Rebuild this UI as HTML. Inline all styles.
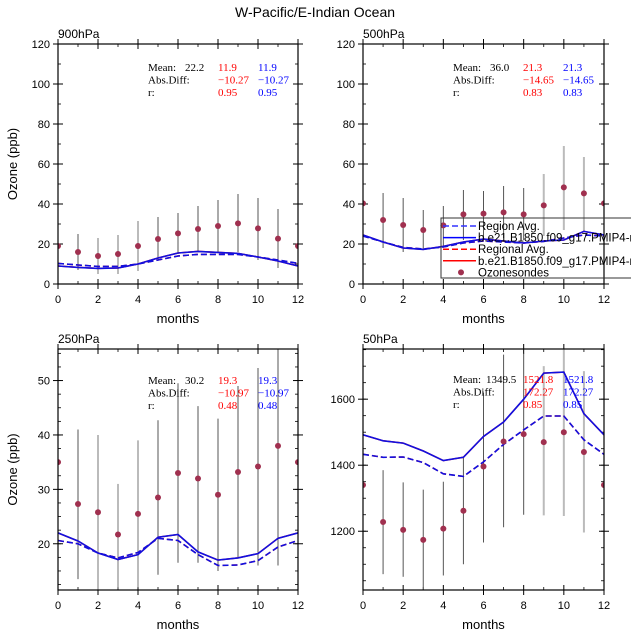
<!DOCTYPE html>
<html><head><meta charset="utf-8"><style>
html,body{margin:0;padding:0;background:#fff;}
svg{display:block;font-family:"Liberation Sans",sans-serif;}
.st{font-family:"Liberation Serif",serif;font-size:11px;}
</style></head><body>
<svg id="chart" width="631" height="638" viewBox="0 0 631 638">
<text x="315" y="17" text-anchor="middle" font-size="14">W-Pacific/E-Indian Ocean</text>
</svg>
<script>
const months = [0,1,2,3,4,5,6,7,8,9,10,11,12];
// 900hPa
const obs900 = [19,16,14,15,19,22.5,25.3,27.5,29,30.3,27.8,22.7,19];
const lo900 = [null,7,5,5,6.5,12,15,16,15.5,16,12,8,null];
const hi900 = [null,25,23,24.5,31.5,33.5,35.5,39,42,45,43,37.5,null];
const solid900 = [9,8.3,7.8,8,10,13,15.5,16.3,15.8,15.3,13.5,11.5,9];
const dash900 = [10.3,9.5,8.8,8.8,10,12,14,14.8,14.8,14.8,13.5,12,10.3];
// 500hPa
const obs500 = [40.3,32,29.5,27,29.3,34.8,35.2,35.8,34.8,39.3,48.3,45.3,40.3];
const lo500 = [null,18,16,17,19,22,23,23,22,24,27,26,null];
const hi500 = [null,45.5,43,37,39,47,46.5,49,48,55,69,63.5,null];
const solid500 = [24.5,21,18,17.3,18.8,21,22.5,21.5,20.5,21.5,22,26.3,24.5];
const dash500 = [24,21,18.3,17.5,18.5,20.5,21.5,21,20.5,21.3,23,24.5,24];
// 250hPa
const obs250 = [35,27.3,25.8,21.7,25.5,28.5,33,32,29,33.2,34.2,38,35];
const lo250 = [null,13.5,11,12,12,14.3,16.5,16.5,15,17.5,16,16,null];
const hi250 = [null,41,40,31,39,42.7,49.5,45.3,43,49,52.3,56,null];
const solid250 = [22,20.5,18.3,17.1,18,21.2,21.7,18.5,17,17.4,18.2,21,22];
const dash250 = [20.6,20,18.3,17.4,18.4,21,20.6,18,16,16.1,16.9,19.4,20.6];
// 50hPa
const obs50 = [1340,1228,1204,1174,1208,1262,1396,1472,1494,1470,1500,1440,1340];
const lo50 = [null,1070,1062,1022,1066,1100,1166,1212,1250,1248,1246,1196,null];
const hi50 = [null,1385,1348,1326,1350,1422,1620,1735,1738,1700,1752,1685,null];
const solid50 = [1492,1474,1467,1443,1414,1424,1487,1531,1600,1679,1682,1556,1492];
const dash50 = [1433,1424,1425,1408,1374,1366,1410,1463,1507,1549,1549,1477,1433];
const yTicks900 = [0,20,40,60,80,100,120];
const yTicks250 = [20,30,40,50];
const yTicks50 = [1200,1400,1600];
const xTicks = [0,2,4,6,8,10,12];

const NS="http://www.w3.org/2000/svg";
const svg=document.getElementById('chart');
function mk(tag,attrs,parent){const e=document.createElementNS(NS,tag);for(const k in attrs)e.setAttribute(k,attrs[k]);(parent||svg).appendChild(e);return e;}

function panel(o){
  const g=mk('g',{});
  
  
  const X=v=>o.x0+(v-0)/12*(o.x1-o.x0);
  const Y=v=>o.yb-(v-o.ymin)/(o.ymax-o.ymin)*(o.yb-o.yt);
  const clip=mk('clipPath',{id:'c'+o.id},g);
  mk('rect',{x:o.x0,y:o.yt,width:o.x1-o.x0,height:o.yb-o.yt},clip);
  for(let v=0;v<=12;v+=1){if(v%2){mk('line',{x1:X(v),x2:X(v),y1:o.yb,y2:o.yb-3,stroke:'#000','stroke-width':0.8},g);mk('line',{x1:X(v),x2:X(v),y1:o.yt,y2:o.yt+3,stroke:'#000','stroke-width':0.8},g);}}
  for(let v=Math.ceil(o.ymin/o.minor)*o.minor;v<=o.ymax;v+=o.minor){const yy=Y(v);mk('line',{x1:o.x0,x2:o.x0+3,y1:yy,y2:yy,stroke:'#000','stroke-width':0.8},g);mk('line',{x1:o.x1,x2:o.x1-3,y1:yy,y2:yy,stroke:'#000','stroke-width':0.8},g);}
  xTicks.forEach(v=>{
    mk('line',{x1:X(v),x2:X(v),y1:o.yb-5,y2:o.yb+5,stroke:'#000','stroke-width':1},g);
    mk('line',{x1:X(v),x2:X(v),y1:o.yt-5,y2:o.yt+5,stroke:'#000','stroke-width':1},g);
    const t=mk('text',{x:X(v),y:o.yb+19,'text-anchor':'middle','font-size':11},g);t.textContent=v;
    
    
  });
  o.yticks.forEach(v=>{
    const yy=Y(v);
    mk('line',{x1:o.x0-5,x2:o.x0+5,y1:yy,y2:yy,stroke:'#000','stroke-width':1},g);
    mk('line',{x1:o.x1-5,x2:o.x1+5,y1:yy,y2:yy,stroke:'#000','stroke-width':1},g);
    const t=mk('text',{x:o.x0-8,y:yy+4,'text-anchor':'end','font-size':11},g);t.textContent=v;
    
    
  });
  const dg=mk('g',{'clip-path':'url(#c'+o.id+')'},g);
  months.forEach((m,i)=>{
    if(o.lo[i]==null)return;
    const gray=o.gray.includes(i);
    const b=mk('line',{x1:X(m),x2:X(m),y1:Y(o.lo[i]),y2:Y(o.hi[i]),stroke:gray?'#bbb':'#555','stroke-width':gray?2:1},dg);
    
    
  });
  const pts=a=>a.map((v,i)=>X(months[i]).toFixed(1)+','+Y(v).toFixed(1)).join(' ');
  let l=mk('polyline',{points:pts(o.dash),fill:'none',stroke:'#f00','stroke-width':1.5,'stroke-dasharray':'6,3'},dg);
  
  l=mk('polyline',{points:pts(o.solid),fill:'none',stroke:'#f00','stroke-width':1.5},dg);
  
  l=mk('polyline',{points:pts(o.dash),fill:'none',stroke:'#1010e0','stroke-width':1.6,'stroke-dasharray':'6,3'},dg);
  
  l=mk('polyline',{points:pts(o.solid),fill:'none',stroke:'#1010e0','stroke-width':1.6},dg);
  
  months.forEach((m,i)=>{
    const c=mk('circle',{cx:X(m),cy:Y(o.obs[i]),r:3,fill:'#a0304f'},dg);
    
    
  });
  mk('rect',{x:o.x0,y:o.yt,width:o.x1-o.x0,height:o.yb-o.yt,fill:'none',stroke:'#000','stroke-width':1.2},g);
  let t=mk('text',{x:o.x0,y:o.yt-6,'font-size':12},g);t.textContent=o.label;
  
  t=mk('text',{x:(o.x0+o.x1)/2,y:o.yb+39,'text-anchor':'middle','font-size':13},g);t.textContent='months';
  
  if(o.ylab){t=mk('text',{x:0,y:0,'text-anchor':'middle','font-size':13,transform:'translate(17,'+((o.yt+o.yb)/2)+') rotate(-90)'},g);t.textContent='Ozone (ppb)';
  }
  const s=o.stats, sx=o.sx, sy=o.sy;
  const rows=[['Mean:',s[0],s[1],s[1]],['Abs.Diff:','',s[2],s[2]],['r:','',s[3],s[3]]];
  rows.forEach((r,j)=>{
    const yy=sy+j*12.5;
    const cols=[[sx,'#000',r[0]],[sx+o.vx,'#000',r[1]],[sx+70,'#f00',r[2]],[sx+110,'#00f',r[3]]];
    cols.forEach(c=>{if(c[2]==='')return;const tt=mk('text',{x:c[0],y:yy,fill:c[1],class:'st'},g);tt.textContent=c[2];
      });
  });
}
panel({id:'p900',label:'900hPa',x0:58,x1:298,yt:44,yb:284,ymin:0,ymax:120,minor:10,yticks:yTicks900,obs:obs900,lo:lo900,hi:hi900,solid:solid900,dash:dash900,gray:[2,3,4],ylab:true,stats:['22.2','11.9','\u221210.27','0.95'],sx:148,sy:71,vx:37});
panel({id:'p500',label:'500hPa',x0:363,x1:604,yt:44,yb:284,ymin:0,ymax:120,minor:10,yticks:yTicks900,obs:obs500,lo:lo500,hi:hi500,solid:solid500,dash:dash500,gray:[9,10,11],ylab:false,stats:['36.0','21.3','\u221214.65','0.83'],sx:453,sy:71,vx:37});
panel({id:'p250',label:'250hPa',x0:58,x1:298,yt:349,yb:590,ymin:11.5,ymax:55.8,minor:2.5,yticks:yTicks250,obs:obs250,lo:lo250,hi:hi250,solid:solid250,dash:dash250,gray:[2,3,4],ylab:true,stats:['30.2','19.3','\u221210.97','0.48'],sx:148,sy:384,vx:37});
panel({id:'p50',label:'50hPa',x0:363,x1:604,yt:349,yb:590,ymin:1022,ymax:1752,minor:50,yticks:yTicks50,obs:obs50,lo:lo50,hi:hi50,solid:solid50,dash:dash50,gray:[9,10,11],ylab:false,stats:['1349.5','1521.8','172.27','0.85'],sx:453,sy:383,vx:33});

const lg=mk('g',{});


mk('rect',{x:441,y:218,width:200,height:60,fill:'#fff','fill-opacity':0.01,stroke:'#333','stroke-width':1},lg);
const leg=[['Region Avg.','#33f','6,3','line'],['b.e21.B1850.f09_g17.PMIP4-midHolo.01','#00f','','line'],['Regional Avg.','#f00','6,3','line'],['b.e21.B1850.f09_g17.PMIP4-midHolo.01','#f00','','line'],['Ozonesondes','#a0304f','','dot']];
leg.forEach((e,i)=>{
  const yy=226+i*11.6;
  if(e[3]==='line'){mk('line',{x1:443,x2:476,y1:yy,y2:yy,stroke:e[1],'stroke-width':1.5,'stroke-dasharray':e[2]||'none'},lg);}
  else{mk('circle',{cx:461,cy:yy,r:3,fill:e[1]},lg);}
  const t=mk('text',{x:478,y:yy+4,'font-size':11.5},lg);t.textContent=e[0];
  
  
});
</script>
</body></html>
